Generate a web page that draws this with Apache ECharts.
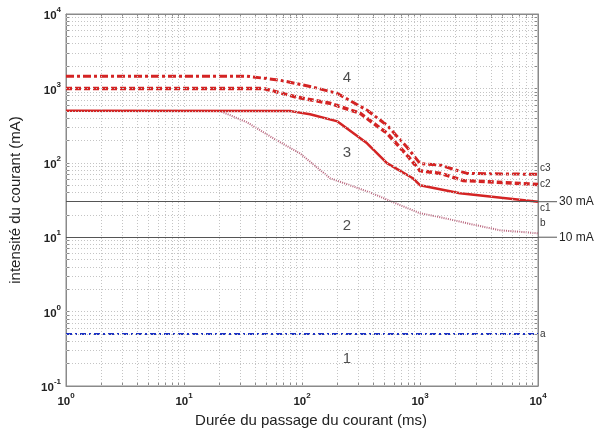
<!DOCTYPE html>
<html>
<head>
<meta charset="utf-8">
<script src="https://cdn.jsdelivr.net/npm/echarts@6/dist/echarts.min.js"></script>
<style>
  html, body { margin: 0; padding: 0; background: #fff; }
  #chart { width: 595px; height: 438px; }
</style>
</head>
<body>
<div id="chart"></div>
<script>
// durée (ms) / intensité (mA)
const c1Ms = [1, 80, 117, 200, 356, 525, 870, 1000, 2180, 10000]
const c1MA = [500, 495, 450, 360, 183, 99, 62, 50, 39, 30]
const c2Ms = [1, 47, 91, 173, 310, 525, 800, 1000, 1500, 2300, 10000]
const c2MA = [1000, 1000, 760, 630, 464, 250, 120, 78, 72, 58, 51]
const c3Ms = [1, 34, 65, 124, 198, 356, 525, 776, 1000, 1480, 2500, 10000]
const c3MA = [1460, 1460, 1290, 1040, 860, 509, 320, 162, 98, 93, 72, 70]
const bMs = [20, 34, 57, 96, 173, 377, 677, 1000, 1480, 2500, 4760, 10000]
const bMA = [500, 352, 214, 134, 62, 40, 27, 21, 18.6, 15.4, 12.4, 11.3]
const aMs = [1, 10000]
const aMA = [0.5, 0.5]
const limitMA = [30, 10]
const limitText = ['30 mA', '10 mA']
const zoneText = ['1', '2', '3', '4']
const zoneMs = [240, 240, 240, 240]
const zoneMA = [0.23, 14, 134, 1370]

const FONT = '"Liberation Sans", Arial, sans-serif'
const RED = '#d42424'

function pairs(xs, ys) {
    return xs.map((x, i) => [x, ys[i]])
}

// log grid values 1..9 x 10^k
function logSteps(lo, hi) {
    let out = []
    for (let k = lo; k < hi; k++) {
        for (let m = 1; m <= 9; m++) out.push(+(m * Math.pow(10, k)).toPrecision(3))
    }
    out.push(Math.pow(10, hi))
    return out
}
const xSteps = logSteps(0, 4)
const ySteps = logSteps(-1, 4)

function powLabel(v) {
    let e = Math.round(Math.log10(v))
    return '{b|10}{e|' + e + '}'
}
const powRich = {
    b: { fontFamily: FONT, fontSize: 11.5, fontWeight: 'bold', color: '#222', verticalAlign: 'bottom', lineHeight: 16 },
    e: { fontFamily: FONT, fontSize: 8, fontWeight: 'bold', color: '#222', verticalAlign: 'top', lineHeight: 16 }
}

const chart = echarts.init(document.getElementById('chart'))

function endLab(text, dy) {
    return {
        show: true, formatter: text, distance: 2, offset: [0, dy],
        fontFamily: FONT, fontSize: 10, color: '#333'
    }
}

let gridLines = []
xSteps.slice(1, -1).forEach(v => gridLines.push({ xAxis: v }))
ySteps.slice(1, -1).forEach(v => gridLines.push({ yAxis: v }))

let option = {
    animation: false,
    backgroundColor: '#fff',
    grid: { left: 66, right: 57, top: 14, bottom: 52, containLabel: false,
        show: true, borderColor: '#8a8a8a', borderWidth: 1 },
    xAxis: [{
        type: 'log', logBase: 10, min: 1, max: 10000,
        name: 'Durée du passage du courant (ms)', nameLocation: 'middle', nameGap: 25,
        nameTextStyle: { fontFamily: FONT, fontSize: 15, color: '#222', padding: [0, 0, 0, 18] },
        axisLine: { show: true, lineStyle: { color: '#8a8a8a' } },
        axisTick: { show: true, inside: true, length: 4, customValues: xSteps, lineStyle: { color: '#8a8a8a' } },
        axisLabel: { formatter: powLabel, rich: powRich, margin: 6 },
        splitLine: { show: false }
    }, {
        type: 'log', logBase: 10, min: 1, max: 10000, position: 'top',
        axisLine: { show: true, lineStyle: { color: '#8a8a8a' } },
        axisTick: { show: true, inside: true, length: 4, customValues: xSteps, lineStyle: { color: '#8a8a8a' } },
        axisLabel: { show: false }, splitLine: { show: false }
    }],
    yAxis: [{
        type: 'log', logBase: 10, min: 0.1, max: 10000,
        name: 'intensité du courant (mA)', nameLocation: 'middle', nameGap: 43,
        nameTextStyle: { fontFamily: FONT, fontSize: 15, color: '#222' },
        axisLine: { show: true, lineStyle: { color: '#8a8a8a' } },
        axisTick: { show: true, inside: true, length: 4, customValues: ySteps, lineStyle: { color: '#8a8a8a' } },
        axisLabel: { formatter: powLabel, rich: powRich, margin: 5 },
        splitLine: { show: false }
    }, {
        type: 'log', logBase: 10, min: 0.1, max: 10000, position: 'right',
        axisLine: { show: true, lineStyle: { color: '#8a8a8a' } },
        axisTick: { show: true, inside: true, length: 4, customValues: ySteps, lineStyle: { color: '#8a8a8a' } },
        axisLabel: { show: false }, splitLine: { show: false }
    }],
    series: [
        {
            name: 'grille', type: 'line', data: [], silent: true,
            markLine: {
                silent: true, symbol: ['none', 'none'], label: { show: false },
                lineStyle: { color: '#c4c4c4', type: [1, 2], width: 1 },
                emphasis: { disabled: true },
                data: gridLines
            }
        },
        {
            name: 'limites', type: 'line', data: [], silent: true,
            markLine: {
                silent: true, symbol: ['none', 'none'],
                lineStyle: { color: '#555', type: 'solid', width: 1 },
                emphasis: { disabled: true },
                label: {
                    show: true, position: 'end', distance: 0,
                    formatter: p => '{l|}{t|' + limitText[limitMA.indexOf(p.value)] + '}',
                    rich: {
                        l: { width: 19, height: 1, backgroundColor: '#555' },
                        t: { fontFamily: FONT, fontSize: 12, color: '#222', padding: [0, 0, 0, 2] }
                    }
                },
                data: limitMA.map(v => ({ yAxis: v }))
            }
        },
        {
            name: 'a', type: 'line', data: pairs(aMs, aMA), showSymbol: false,
            lineStyle: { color: '#1c32c4', width: 2, type: [6, 3, 2, 3] },
            endLabel: endLab('a', 0)
        },
        {
            name: 'b', type: 'line', data: pairs(bMs, bMA), showSymbol: false,
            lineStyle: { color: '#b8647c', width: 2, type: [1, 1.2] },
            endLabel: endLab('b', -10)
        },
        {
            name: 'c1', type: 'line', data: pairs(c1Ms, c1MA), showSymbol: false,
            lineStyle: { color: RED, width: 2.5 },
            endLabel: endLab('c1', 7)
        },
        {
            name: 'c2', type: 'line', data: pairs(c2Ms, c2MA), showSymbol: false,
            lineStyle: { color: RED, width: 3.5, type: [6, 3] },
            endLabel: endLab('c2', 0)
        },
        {
            name: 'c3', type: 'line', data: pairs(c3Ms, c3MA), showSymbol: false,
            lineStyle: { color: RED, width: 3, type: [8, 3, 3, 3] },
            endLabel: endLab('c3', -6)
        },
        {
            name: 'zones', type: 'scatter', silent: true, symbolSize: 1,
            itemStyle: { color: 'transparent' },
            label: {
                show: true, position: 'inside', fontFamily: FONT, fontSize: 15, color: '#222',
                formatter: p => zoneText[p.dataIndex]
            },
            data: pairs(zoneMs, zoneMA)
        }
    ]
}
chart.setOption(option, true)
</script>
</body>
</html>
